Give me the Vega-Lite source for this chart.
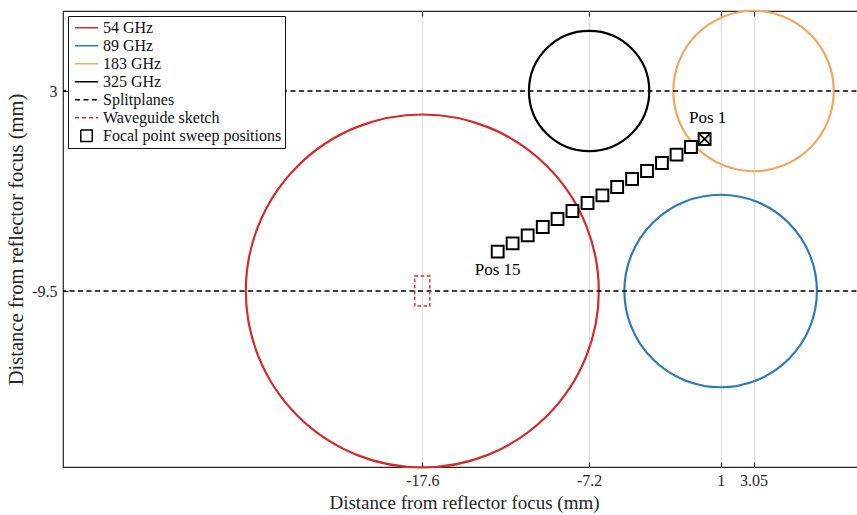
{
  "$schema": "https://vega.github.io/schema/vega-lite/v6.json",
  "width": 802,
  "height": 456,
  "autosize": "none",
  "padding": {"left": 63, "top": 11, "right": 0, "bottom": 48},
  "background": "white",
  "resolve": {"axis": {"x": "independent", "y": "independent"}},
  "config": {
    "font": "Liberation Serif, DejaVu Serif, serif",
    "view": {"stroke": "#262626", "strokeWidth": 1.2},
    "axis": {
      "labelFont": "Liberation Serif, DejaVu Serif, serif",
      "titleFont": "Liberation Serif, DejaVu Serif, serif",
      "labelFontSize": 16,
      "titleFontSize": 19,
      "titleFontWeight": "normal",
      "labelColor": "#262626",
      "titleColor": "#262626",
      "tickColor": "#262626",
      "domain": false,
      "tickSize": -5,
      "tickWidth": 1.2,
      "labelFlush": false,
      "labelOverlap": false
    },
    "legend": {
      "orient": "top-left",
      "offset": 5,
      "title": null,
      "strokeColor": "#111111",
      "strokeWidth": 1,
      "fillColor": "white",
      "padding": 3,
      "labelFont": "Liberation Serif, DejaVu Serif, serif",
      "labelFontSize": 16,
      "labelColor": "#111111",
      "labelLimit": 400,
      "labelOffset": 4,
      "symbolOffset": 3,
      "symbolSize": 529,
      "symbolStrokeWidth": 1.5,
      "clipHeight": 17.6,
      "rowPadding": 0
    },
    "text": {"font": "Liberation Serif, DejaVu Serif, serif"}
  },
  "datasets": {
    "circles": [
      {"series": "54 GHz", "x": -17.6, "y": -9.5, "radius": 11},
      {"series": "89 GHz", "x": 1, "y": -9.5, "radius": 6},
      {"series": "183 GHz", "x": 3.05, "y": 3, "radius": 5},
      {"series": "325 GHz", "x": -7.2, "y": 3, "radius": 3.75}
    ],
    "planes": [
      {"series": "Splitplanes", "y": 3},
      {"series": "Splitplanes", "y": -9.5}
    ],
    "waveguide": [
      {"series": "Waveguide sketch", "x": -18.07, "x2": -17.13, "y": -10.44, "y2": -8.56}
    ],
    "positions": [
      {"series": "Focal point sweep positions", "pos": 1, "x": 0.0, "y": 0.0, "label": "Pos 1"},
      {"series": "Focal point sweep positions", "pos": 2, "x": -0.85, "y": -0.5, "label": ""},
      {"series": "Focal point sweep positions", "pos": 3, "x": -1.75, "y": -0.98, "label": ""},
      {"series": "Focal point sweep positions", "pos": 4, "x": -2.66, "y": -1.5, "label": ""},
      {"series": "Focal point sweep positions", "pos": 5, "x": -3.59, "y": -2.0, "label": ""},
      {"series": "Focal point sweep positions", "pos": 6, "x": -4.52, "y": -2.5, "label": ""},
      {"series": "Focal point sweep positions", "pos": 7, "x": -5.45, "y": -3.0, "label": ""},
      {"series": "Focal point sweep positions", "pos": 8, "x": -6.37, "y": -3.52, "label": ""},
      {"series": "Focal point sweep positions", "pos": 9, "x": -7.3, "y": -4.0, "label": ""},
      {"series": "Focal point sweep positions", "pos": 10, "x": -8.24, "y": -4.5, "label": ""},
      {"series": "Focal point sweep positions", "pos": 11, "x": -9.17, "y": -5.0, "label": ""},
      {"series": "Focal point sweep positions", "pos": 12, "x": -10.09, "y": -5.5, "label": ""},
      {"series": "Focal point sweep positions", "pos": 13, "x": -11.03, "y": -6.02, "label": ""},
      {"series": "Focal point sweep positions", "pos": 14, "x": -11.97, "y": -6.52, "label": ""},
      {"series": "Focal point sweep positions", "pos": 15, "x": -12.9, "y": -7.04, "label": "Pos 15"}
    ]
  },
  "layer": [
    {
      "data": {"name": "circles"},
      "mark": {"type": "point", "shape": "circle", "filled": false, "strokeWidth": 2.2, "opacity": 1},
      "encoding": {
        "x": {
          "field": "x", "type": "quantitative",
          "scale": {"domain": [-40, 10], "nice": false, "zero": false},
          "axis": {
            "orient": "bottom",
            "values": [-17.6, -7.2, 1, 3.05],
            "labelExpr": "'' + datum.value",
            "title": "Distance from reflector focus (mm)",
            "grid": true, "gridColor": "#d9d9d9", "gridWidth": 1,
            "labelPadding": 10, "titlePadding": 5
          }
        },
        "y": {
          "field": "y", "type": "quantitative",
          "scale": {"domain": [-20.5, 8], "nice": false, "zero": false},
          "axis": {
            "orient": "left",
            "values": [3, -9.5],
            "labelExpr": "'' + datum.value",
            "title": "Distance from reflector focus (mm)",
            "titleFontSize": 20.5,
            "grid": false,
            "labelPadding": 11, "titlePadding": 5
          }
        },
        "size": {
          "field": "radius", "type": "quantitative",
          "scale": {"type": "pow", "exponent": 2, "domain": [0, 11], "range": [0, 124609], "zero": true},
          "legend": null
        },
        "color": {
          "field": "series", "type": "nominal",
          "scale": {
            "domain": ["54 GHz", "89 GHz", "183 GHz", "325 GHz", "Splitplanes", "Waveguide sketch", "Focal point sweep positions"],
            "range": ["#D62A2A", "#2B7BBA", "#F5A65B", "#000000", "#000000", "#D62A2A", "#000000"]
          }
        }
      }
    },
    {
      "data": {"name": "planes"},
      "mark": {"type": "rule", "strokeWidth": 1.5},
      "encoding": {
        "y": {"field": "y", "type": "quantitative", "axis": null},
        "color": {
          "field": "series", "type": "nominal",
          "scale": {
            "domain": ["54 GHz", "89 GHz", "183 GHz", "325 GHz", "Splitplanes", "Waveguide sketch", "Focal point sweep positions"],
            "range": ["#D62A2A", "#2B7BBA", "#F5A65B", "#000000", "#000000", "#D62A2A", "#000000"]
          }
        },
        "strokeDash": {
          "field": "series", "type": "nominal",
          "scale": {
            "domain": ["54 GHz", "89 GHz", "183 GHz", "325 GHz", "Splitplanes", "Waveguide sketch", "Focal point sweep positions"],
            "range": [[1, 0], [1, 0], [1, 0], [1, 0], [5, 3.5], [4, 3], [1, 0]]
          }
        }
      }
    },
    {
      "data": {"name": "waveguide"},
      "mark": {"type": "rect", "filled": false, "strokeWidth": 1.4, "strokeDash": [3.5, 2.5]},
      "encoding": {
        "x": {"field": "x", "type": "quantitative", "axis": null},
        "x2": {"field": "x2"},
        "y": {"field": "y", "type": "quantitative", "axis": null},
        "y2": {"field": "y2"},
        "color": {
          "field": "series", "type": "nominal",
          "scale": {
            "domain": ["54 GHz", "89 GHz", "183 GHz", "325 GHz", "Splitplanes", "Waveguide sketch", "Focal point sweep positions"],
            "range": ["#D62A2A", "#2B7BBA", "#F5A65B", "#000000", "#000000", "#D62A2A", "#000000"]
          }
        }
      }
    },
    {
      "data": {"name": "positions"},
      "mark": {"type": "point", "filled": false, "fill": "white", "fillOpacity": 1, "size": 560, "strokeWidth": 2, "opacity": 1},
      "encoding": {
        "x": {
          "field": "x", "type": "quantitative",
          "axis": {"orient": "top", "values": [-17.6, -7.2, 1, 3.05], "labels": false, "title": null, "grid": false}
        },
        "y": {"field": "y", "type": "quantitative", "axis": null},
        "color": {
          "field": "series", "type": "nominal",
          "scale": {
            "domain": ["54 GHz", "89 GHz", "183 GHz", "325 GHz", "Splitplanes", "Waveguide sketch", "Focal point sweep positions"],
            "range": ["#D62A2A", "#2B7BBA", "#F5A65B", "#000000", "#000000", "#D62A2A", "#000000"]
          }
        },
        "shape": {
          "field": "series", "type": "nominal",
          "scale": {
            "domain": ["54 GHz", "89 GHz", "183 GHz", "325 GHz", "Splitplanes", "Waveguide sketch", "Focal point sweep positions"],
            "range": ["stroke", "stroke", "stroke", "stroke", "stroke", "stroke", "M-0.5,-0.5H0.5V0.5H-0.5Z"]
          }
        }
      }
    },
    {
      "data": {"name": "positions"},
      "transform": [{"filter": "datum.pos === 1"}],
      "mark": {"type": "point", "shape": "M-1,-1L1,1M-1,1L1,-1", "filled": false, "stroke": "black", "size": 130, "strokeWidth": 1.8, "opacity": 1},
      "encoding": {
        "x": {"field": "x", "type": "quantitative", "axis": null},
        "y": {"field": "y", "type": "quantitative", "axis": null}
      }
    },
    {
      "data": {"name": "positions"},
      "transform": [{"filter": "datum.pos === 1"}],
      "mark": {"type": "text", "fontSize": 17, "color": "black", "dx": 3, "dy": -21, "align": "center", "baseline": "middle"},
      "encoding": {
        "x": {"field": "x", "type": "quantitative", "axis": null},
        "y": {"field": "y", "type": "quantitative", "axis": null},
        "text": {"field": "label"}
      }
    },
    {
      "data": {"name": "positions"},
      "transform": [{"filter": "datum.pos === 15"}],
      "mark": {"type": "text", "fontSize": 17, "color": "black", "dx": 0, "dy": 18, "align": "center", "baseline": "middle"},
      "encoding": {
        "x": {"field": "x", "type": "quantitative", "axis": null},
        "y": {"field": "y", "type": "quantitative", "axis": null},
        "text": {"field": "label"}
      }
    }
  ]
}
